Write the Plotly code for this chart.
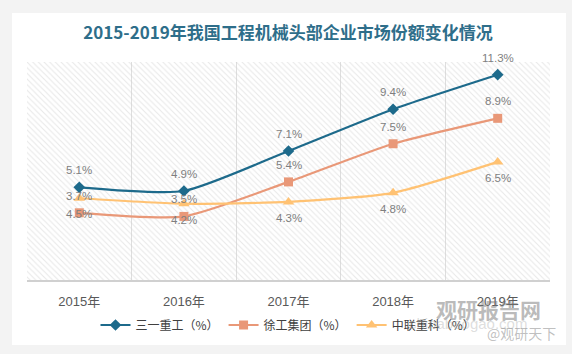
import plotly.graph_objects as go

years = ["2015年", "2016年", "2017年", "2018年", "2019年"]
sany = [5.1, 4.9, 7.1, 9.4, 11.3]
xcmg = [3.7, 3.5, 5.4, 7.5, 8.9]
zoomlion = [4.5, 4.2, 4.3, 4.8, 6.5]
names = ["三一重工（%）", "徐工集团（%）", "中联重科（%）"]
colors = ["#1D6A8B", "#E99878", "#FFC273"]
ymax = 12

W, H = 572, 354
L, R, T, B = 27, 22, 62, 74
PW, PH = W - L - R, H - T - B


def px(x):
    return (x - L) / PW


def py(y):
    return (H - B - y) / PH


fig = go.Figure()

# hatched plot background
fig.add_trace(go.Bar(
    x=years, y=[ymax] * len(years), width=1,
    marker=dict(color="rgba(0,0,0,0)", line=dict(width=0),
                pattern=dict(shape="\\", fgcolor="#d2d2d2", bgcolor="rgba(0,0,0,0)",
                             size=4, solidity=0.28, fillmode="overlay")),
    hoverinfo="skip", showlegend=False))

series = [(sany, "diamond", 9, 17),
          (xcmg, "square", 9, 17),
          (zoomlion, "triangle-up", 10, -16)]
for (vals, sym, ms, shift), name, col in zip(series, names, colors):
    fig.add_trace(go.Scatter(
        x=years, y=vals, name=name, mode="lines+markers",
        line=dict(color=col, width=2.2, shape="spline", smoothing=0.6),
        marker=dict(symbol=sym, size=ms, color=col)))
    for xv, v in zip(years, vals):
        fig.add_annotation(x=xv, y=v, xref="x", yref="y", text=f"{v}%", showarrow=False,
                           xanchor="center", yanchor="middle", yshift=shift,
                           font=dict(size=11.5, color="#7f7f7f", family="Liberation Sans, Arial"))

# card
fig.add_shape(type="rect", xref="paper", yref="paper",
              x0=px(12), x1=px(566), y0=py(345), y1=py(13),
              fillcolor="white", line=dict(width=0), layer="below")

# watermark
wm = dict(xref="paper", yref="paper", showarrow=False, xanchor="center", yanchor="middle")
fig.add_annotation(x=px(488), y=py(309), text="<b>观研报告网</b>",
                   font=dict(size=21, color="rgba(120,120,120,0.5)", family="Noto Sans CJK SC"), **wm)
fig.add_annotation(x=px(468), y=py(323), text="chinabaogao.com",
                   font=dict(size=15, color="rgba(170,170,170,0.4)", family="Liberation Sans"), **wm)
fig.add_annotation(x=px(521), y=py(333), text="@观研天下",
                   font=dict(size=14, color="rgba(150,150,150,0.6)", family="Noto Sans CJK SC"), **wm)

fig.update_layout(
    width=W, height=H, margin=dict(l=L, r=R, t=T, b=B),
    paper_bgcolor="#f3f3f3", plot_bgcolor="rgba(0,0,0,0)",
    font=dict(family="Noto Sans CJK SC, Liberation Sans", color="#595959"),
    title=dict(text="<b>2015-2019年我国工程机械头部企业市场份额变化情况</b>",
               x=288 / W, xanchor="center", y=1 - 33 / H, yanchor="middle",
               font=dict(size=17, color="#2E6E8A", family="Noto Sans CJK SC")),
    xaxis=dict(type="category", tickson="boundaries", showgrid=True, gridcolor="#dedede", gridwidth=1,
               showline=True, linecolor="#d0d0d0", linewidth=1.5, ticks="", ticklabelstandoff=9,
               tickfont=dict(size=13, color="#595959", family="Liberation Sans, Noto Sans CJK SC"),
               range=[-0.5, 4.5]),
    yaxis=dict(range=[0, ymax], showgrid=False, showticklabels=False, zeroline=False, fixedrange=True),
    legend=dict(orientation="h", x=px(288), xanchor="center", y=py(325), yanchor="middle",
                bgcolor="rgba(0,0,0,0)", font=dict(size=12, color="#404040"), itemwidth=30,
                traceorder="normal"),
    bargap=0,
)

fig.write_html("out.html")
